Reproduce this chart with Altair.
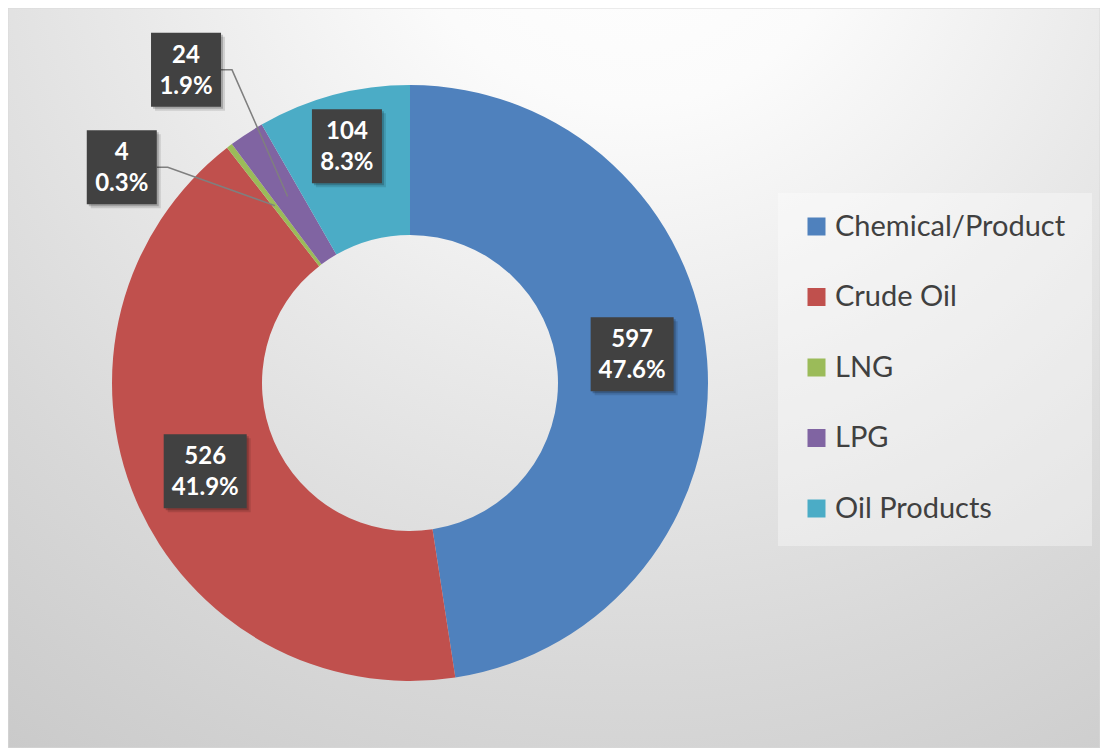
import math
import altair as alt
import pandas as pd

# ---- data ----
categories = ["Chemical/Product", "Crude Oil", "LNG", "LPG", "Oil Products"]
values = [597, 526, 4, 24, 104]
colors = ["#4f81bd", "#c0504d", "#9bbb59", "#8064a2", "#4bacc6"]

# ---- layout ----
W, H = 1092, 740
CX, CY = 402, 375
R_OUT, R_IN = 298, 148
R_MID = (R_OUT + R_IN) / 2
label_radius = [224, 223, 360, 385, 245]
label_angle_shift = [-3.0, 0.0, -15.9, -2.3, 0.0]
label_leader = [False, False, True, True, False]
BOX_H = 74

total = sum(values)
rows, lines_rows = [], []
cum = 0
for i, (c, v) in enumerate(zip(categories, values)):
    mid = (cum + v / 2) / total * 360
    cum += v
    a = math.radians(mid + label_angle_shift[i])
    x = CX + label_radius[i] * math.sin(a)
    y = CY - label_radius[i] * math.cos(a)
    pct = f"{v / total * 100:.1f}%"
    bw = 18 + 13 * len(pct)
    rows.append(dict(category=c, x=x, y=y, x0=x - bw / 2, x1=x + bw / 2,
                     y0=y - BOX_H / 2, y1=y + BOX_H / 2,
                     line1=str(v), line2=pct))
    if label_leader[i]:
        am = math.radians(mid)
        pts = [(x + bw / 2, y), (x + bw / 2 + 11, y),
               (CX + R_MID * math.sin(am), CY - R_MID * math.cos(am))]
        for k, (px, py) in enumerate(pts):
            lines_rows.append(dict(category=c, idx=k, x=px, y=py))

df = pd.DataFrame({"category": categories, "value": values, "order": list(range(len(values)))})
lab = pd.DataFrame(rows)
leaders = pd.DataFrame(lines_rows)

bg = alt.Chart(pd.DataFrame({"a": [0]})).mark_rect(
    color={"gradient": "radial", "x1": 0.57, "y1": 0.04, "r1": 0.0,
           "x2": 0.57, "y2": 0.04, "r2": 1.05,
           "stops": [{"offset": 0.0, "color": "#ffffff"},
                     {"offset": 0.2, "color": "#fbfbfb"},
                     {"offset": 0.45, "color": "#e9e9e9"},
                     {"offset": 0.7, "color": "#d8d8d8"},
                     {"offset": 1.0, "color": "#c6c6c6"}]},
    stroke="#d9d9d9", strokeWidth=1
).encode(x=alt.value(0), x2=alt.value(W), y=alt.value(0), y2=alt.value(H))

legend_box = alt.Chart(pd.DataFrame({"a": [0]})).mark_rect(
    color="#ffffff", opacity=0.35
).encode(x=alt.value(770), x2=alt.value(1084), y=alt.value(185), y2=alt.value(538))

arc = alt.Chart(df).mark_arc(outerRadius=R_OUT, innerRadius=R_IN).encode(
    theta=alt.Theta("value:Q", stack=True),
    color=alt.Color("category:N",
                    scale=alt.Scale(domain=categories, range=colors),
                    legend=alt.Legend(orient="none", legendX=794, legendY=204,
                                      title=None, symbolType="square", symbolSize=324,
                                      symbolStrokeWidth=0, labelFont="Lato",
                                      labelFontSize=29, labelColor="#404040",
                                      labelLimit=0,
                                      rowPadding=40.5, labelOffset=4, padding=0)),
    order=alt.Order("order:Q"),
    x=alt.value(CX), y=alt.value(CY),
)


def shadow(off, op):
    return alt.Chart(lab).transform_calculate(
        sx0=f"datum.x0 + {off}", sx1=f"datum.x1 + {off}",
        sy0=f"datum.y0 + {off}", sy1=f"datum.y1 + {off}"
    ).mark_rect(color="#000000", opacity=op).encode(
        x=alt.X("sx0:Q", scale=None, axis=None), x2="sx1:Q",
        y=alt.Y("sy0:Q", scale=None, axis=None), y2="sy1:Q")


boxes = alt.Chart(lab).mark_rect(color="#414141").encode(
    x=alt.X("x0:Q", scale=None, axis=None), x2="x1:Q",
    y=alt.Y("y0:Q", scale=None, axis=None), y2="y1:Q")


def text_line(field, dy):
    return alt.Chart(lab).mark_text(
        font="Lato", fontWeight="bold", fontSize=24, color="#ffffff",
        align="center", baseline="alphabetic", dy=dy
    ).encode(
        x=alt.X("x:Q", scale=None, axis=None),
        y=alt.Y("y:Q", scale=None, axis=None),
        text=f"{field}:N")


leader_lines = alt.Chart(leaders).mark_line(color="#7f7f7f", strokeWidth=1.5).encode(
    x=alt.X("x:Q", scale=None, axis=None),
    y=alt.Y("y:Q", scale=None, axis=None),
    detail="category:N",
    order="idx:Q")

chart = alt.layer(
    bg, legend_box, arc, leader_lines, shadow(4, 0.12), shadow(2, 0.2), boxes,
    text_line("line1", -7), text_line("line2", 24)
).properties(
    width=W, height=H, padding=0,
    autosize=alt.AutoSizeParams(type="none")
).configure_view(stroke=None).configure(background="#ffffff")

chart.save("out.html", embed_options={"renderer": "svg", "actions": False})
